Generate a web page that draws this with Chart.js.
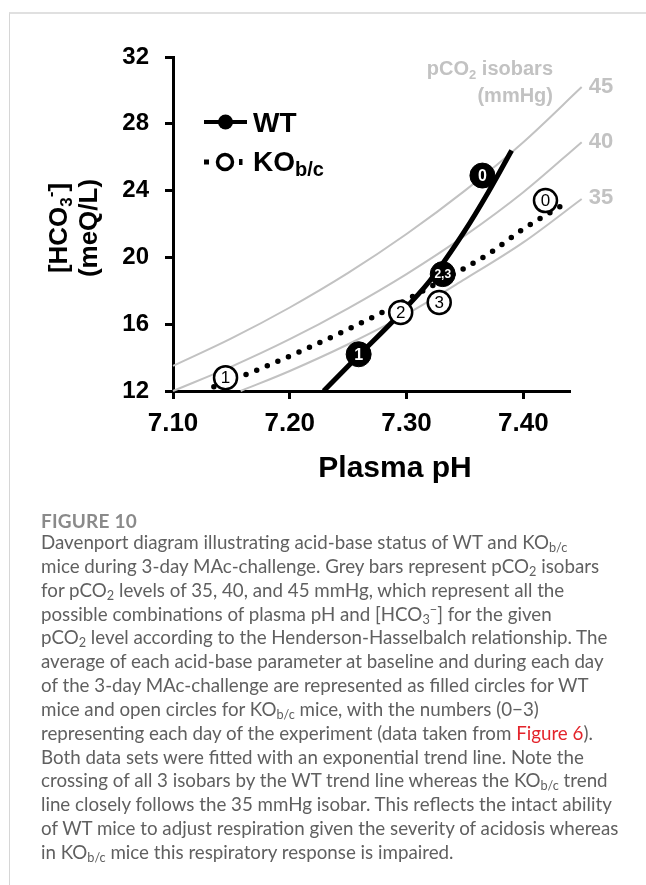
<!DOCTYPE html>
<html>
<head>
<meta charset="utf-8">
<script src="https://cdn.jsdelivr.net/npm/chart.js@4.4.0/dist/chart.umd.min.js"></script>
<style>
  html, body { margin: 0; padding: 0; background: #fff; }
  body { width: 646px; height: 885px; position: relative; overflow: hidden; }
  .frame { position: absolute; left: 9px; top: 12px; width: 700px; height: 900px;
           border-left: 1px solid #d6d6d6; border-top: 2px solid #e0e0e0; }
  #chart { position: absolute; left: 0; top: 0; }
  .fig { position: absolute; left: 41px; top: 511px; font: bold 19px Lato, sans-serif;
         color: #8a8a8a; line-height: 19px; letter-spacing: 0.2px; }
  .caption { position: absolute; left: 41px; top: 531px; font-family: Lato, sans-serif;
             font-size: 19px; line-height: 23.85px; color: #606060; }
  .caption div { white-space: nowrap; }
  .caption sub, .caption sup { font-size: 0.68em; line-height: 0; }
  .caption sub { vertical-align: -0.25em; }
  .caption sup { vertical-align: 0.55em; }
  .red { color: #e3242b; }
</style>
</head>
<body>
<div class="frame"></div>
<canvas id="chart" width="646" height="530"></canvas>
<div class="fig">FIGURE 10</div>
<div class="caption" id="caption">
  <div>Davenport diagram illustrating acid-base status of WT and KO<sub>b/c</sub></div>
  <div>mice during 3-day MAc-challenge. Grey bars represent pCO<sub>2</sub> isobars</div>
  <div>for pCO<sub>2</sub> levels of 35, 40, and 45 mmHg, which represent all the</div>
  <div>possible combinations of plasma pH and [HCO<sub>3</sub><sup>&minus;</sup>] for the given</div>
  <div>pCO<sub>2</sub> level according to the Henderson-Hasselbalch relationship. The</div>
  <div>average of each acid-base parameter at baseline and during each day</div>
  <div>of the 3-day MAc-challenge are represented as filled circles for WT</div>
  <div>mice and open circles for KO<sub>b/c</sub> mice, with the numbers (0&minus;3)</div>
  <div>representing each day of the experiment (data taken from <span class="red">Figure 6</span>).</div>
  <div>Both data sets were fitted with an exponential trend line. Note the</div>
  <div>crossing of all 3 isobars by the WT trend line whereas the KO<sub>b/c</sub> trend</div>
  <div>line closely follows the 35 mmHg isobar. This reflects the intact ability</div>
  <div>of WT mice to adjust respiration given the severity of acidosis whereas</div>
  <div>in KO<sub>b/c</sub> mice this respiratory response is impaired.</div>
</div>
<script>
// axis ticks
const xTicks = [7.10, 7.20, 7.30, 7.40];
const xTickLabels = ['7.10', '7.20', '7.30', '7.40'];
const yTicks = [12, 16, 20, 24, 28, 32];

// group means (pH, [HCO3-]) per day
const wtPH = [7.365, 7.259, 7.331];
const wtHCO3 = [24.9, 14.2, 19.0];
const wtDays = ['0', '1', '2,3'];

const koPH = [7.419, 7.145, 7.295, 7.328];
const koHCO3 = [23.4, 12.8, 16.7, 17.3];
const koDays = ['0', '1', '2', '3'];

// exponential trend lines
const wtTrendPH = [7.229, 7.26, 7.29, 7.32, 7.35, 7.37, 7.39];
const wtTrendHCO3 = [12.0, 14.2, 16.3, 18.6, 21.6, 23.9, 26.4];

const koTrendPH = [7.135, 7.17, 7.21, 7.25, 7.29, 7.33, 7.37, 7.40, 7.433];
const koTrendHCO3 = [12.25, 13.2, 14.4, 15.7, 17.1, 18.6, 20.2, 21.7, 23.1];

// pCO2 isobars (grey curves)
const isoPH = [7.10, 7.15, 7.20, 7.25, 7.30, 7.35, 7.40, 7.45];
const iso45 = [13.5, 15.15, 17.0, 19.07, 21.4, 24.0, 26.9, 30.2];
const iso40 = [12.0, 13.46, 15.1, 16.95, 19.0, 21.3, 23.9, 26.9];
const iso35PH = [7.158, 7.20, 7.25, 7.30, 7.35, 7.40, 7.45];
const iso35 = [12.0, 13.2, 14.8, 16.6, 18.7, 20.9, 23.5];
const isoLevels = ['45', '40', '35'];

const pts = (xs, ys) => xs.map((x, i) => ({ x, y: ys[i] }));
const GREY = '#c2c2c2';
const bold = s => `bold ${s}px "Liberation Sans", Arial, sans-serif`;

function runsWidth(ctx, runs) {
  let w = 0;
  runs.forEach(r => { ctx.font = r.font; w += ctx.measureText(r.t).width; });
  return w;
}
function drawRuns(ctx, runs, x, y, align) {
  let cx = x;
  if (align === 'right') cx = x - runsWidth(ctx, runs);
  if (align === 'center') cx = x - runsWidth(ctx, runs) / 2;
  ctx.textAlign = 'left';
  ctx.textBaseline = 'alphabetic';
  runs.forEach(r => {
    ctx.font = r.font;
    ctx.fillText(r.t, cx, y + (r.dy || 0));
    cx += ctx.measureText(r.t).width;
  });
}

// day numbers inside circles, legend, titles, isobar labels
const annotate = {
  id: 'annotate',
  afterDatasetsDraw(chart) {
    const { ctx, scales: { x, y } } = chart;
    ctx.save();
    ctx.textAlign = 'center';
    ctx.textBaseline = 'middle';
    ctx.fillStyle = '#fff';
    wtDays.forEach((d, i) => {
      ctx.font = bold(d.length > 1 ? 12 : 16);
      ctx.fillText(d, x.getPixelForValue(wtPH[i]), y.getPixelForValue(wtHCO3[i]) + 1);
    });
    ctx.fillStyle = '#000';
    ctx.font = '17px "Liberation Sans", Arial, sans-serif';
    koDays.forEach((d, i) => {
      ctx.fillText(d, x.getPixelForValue(koPH[i]), y.getPixelForValue(koHCO3[i]) + 1);
    });
    ctx.restore();
  },
  afterDraw(chart) {
    const { ctx, chartArea: a, scales: { x, y } } = chart;
    ctx.save();

    // isobar header + level numbers
    ctx.fillStyle = GREY;
    drawRuns(ctx, [{ t: 'pCO', font: bold(20) }, { t: '2', font: bold(13), dy: 4 },
                   { t: ' isobars', font: bold(20) }], a.right - 17, a.top + 18, 'right');
    drawRuns(ctx, [{ t: '(mmHg)', font: bold(20) }], a.right - 17, a.top + 45, 'right');
    [[isoPH, iso45], [isoPH, iso40], [iso35PH, iso35]].forEach(([xs, ys], i) => {
      const n = xs.length - 1;
      drawRuns(ctx, [{ t: isoLevels[i], font: bold(22) }],
        x.getPixelForValue(xs[n]) + 7, y.getPixelForValue(ys[n]) + 5.5, 'left');
    });

    // legend
    const lx = a.left + 31, wy = a.top + 65, ky = a.top + 105;
    ctx.fillStyle = '#000';
    ctx.strokeStyle = '#000';
    ctx.lineWidth = 4;
    ctx.beginPath(); ctx.moveTo(lx, wy); ctx.lineTo(lx + 43, wy); ctx.stroke();
    ctx.beginPath(); ctx.arc(lx + 21.5, wy, 7.5, 0, Math.PI * 2); ctx.fill();
    drawRuns(ctx, [{ t: 'WT', font: bold(28) }], lx + 49, wy + 10, 'left');
    ctx.fillRect(lx, ky - 2.5, 5, 5);
    ctx.fillRect(lx + 35, ky - 3, 3.5, 6);
    ctx.lineWidth = 3.5;
    ctx.fillStyle = '#fff';
    ctx.beginPath(); ctx.arc(lx + 21, ky, 7.5, 0, Math.PI * 2); ctx.fill(); ctx.stroke();
    ctx.fillStyle = '#000';
    drawRuns(ctx, [{ t: 'KO', font: bold(28) }, { t: 'b/c', font: bold(20), dy: 5 }],
      lx + 49, ky + 9, 'left');

    // x title
    drawRuns(ctx, [{ t: 'Plasma pH', font: bold(30) }], a.left + 222, a.bottom + 86, 'center');

    // y title, two rotated lines
    const cy = (a.top + a.bottom) / 2 + 4;
    ctx.translate(67, cy);
    ctx.rotate(-Math.PI / 2);
    drawRuns(ctx, [{ t: '[HCO', font: bold(26) }, { t: '3', font: bold(17), dy: 5 },
                   { t: '-', font: bold(17), dy: -11 }, { t: ']', font: bold(26) }], 0, 0, 'center');
    drawRuns(ctx, [{ t: '(meQ/L)', font: bold(26) }], 0, 29.5, 'center');
    ctx.restore();
  }
};

const line = (data, extra) => Object.assign({
  data, showLine: true, pointRadius: 0, fill: false, tension: 0.4,
  cubicInterpolationMode: 'monotone'
}, extra);

new Chart(document.getElementById('chart'), {
  type: 'scatter',
  data: {
    datasets: [
      { label: 'WT', data: pts(wtPH, wtHCO3), showLine: false, order: 0,
        pointRadius: 12.5, pointBackgroundColor: '#000', pointBorderColor: '#000', pointBorderWidth: 1 },
      { label: 'KO b/c', data: pts(koPH, koHCO3), showLine: false, order: 0,
        pointRadius: 11.5, pointBackgroundColor: '#fff', pointBorderColor: '#000', pointBorderWidth: 2.5 },
      line(pts(wtTrendPH, wtTrendHCO3), { borderColor: '#000', borderWidth: 5, order: 1 }),
      line(pts(koTrendPH, koTrendHCO3), { borderColor: '#000', borderWidth: 5.5, borderDash: [0, 11.5],
        borderCapStyle: 'round', order: 1 }),
      line(pts(isoPH, iso45), { borderColor: GREY, borderWidth: 2, clip: false, order: 2 }),
      line(pts(isoPH, iso40), { borderColor: GREY, borderWidth: 2, clip: false, order: 2 }),
      line(pts(iso35PH, iso35), { borderColor: GREY, borderWidth: 2, clip: false, order: 2 })
    ]
  },
  options: {
    responsive: false,
    animation: false,
    layout: { padding: { left: 0, right: 76, top: 57, bottom: 79 } },
    plugins: { legend: { display: false }, tooltip: { enabled: false } },
    scales: {
      x: {
        type: 'linear', min: 7.1, max: 7.44,
        afterBuildTicks: s => { s.ticks = xTicks.map(v => ({ value: v })); },
        afterFit: s => { s.height = 60; },
        ticks: { callback: (v, i) => xTickLabels[i], color: '#000', padding: 9,
                 font: { family: '"Liberation Sans", Arial', size: 26, weight: 'bold' },
                 maxRotation: 0, autoSkip: false },
        grid: { drawOnChartArea: false, drawTicks: true, tickLength: 8, tickWidth: 3, tickColor: '#000' },
        border: { color: '#000', width: 3 }
      },
      y: {
        type: 'linear', min: 12, max: 32,
        afterBuildTicks: s => { s.ticks = yTicks.map(v => ({ value: v })); },
        afterFit: s => { s.width = 173; },
        ticks: { color: '#000', padding: 16,
                 font: { family: '"Liberation Sans", Arial', size: 24, weight: 'bold' } },
        grid: { drawOnChartArea: false, drawTicks: true, tickLength: 8, tickWidth: 3, tickColor: '#000' },
        border: { color: '#000', width: 3 }
      }
    }
  },
  plugins: [annotate]
});

// fit caption font so the widest line spans like the original
const cap = document.getElementById('caption');
cap.style.fontSize = (19 * 578 / cap.scrollWidth).toFixed(2) + 'px';
</script>
</body>
</html>
